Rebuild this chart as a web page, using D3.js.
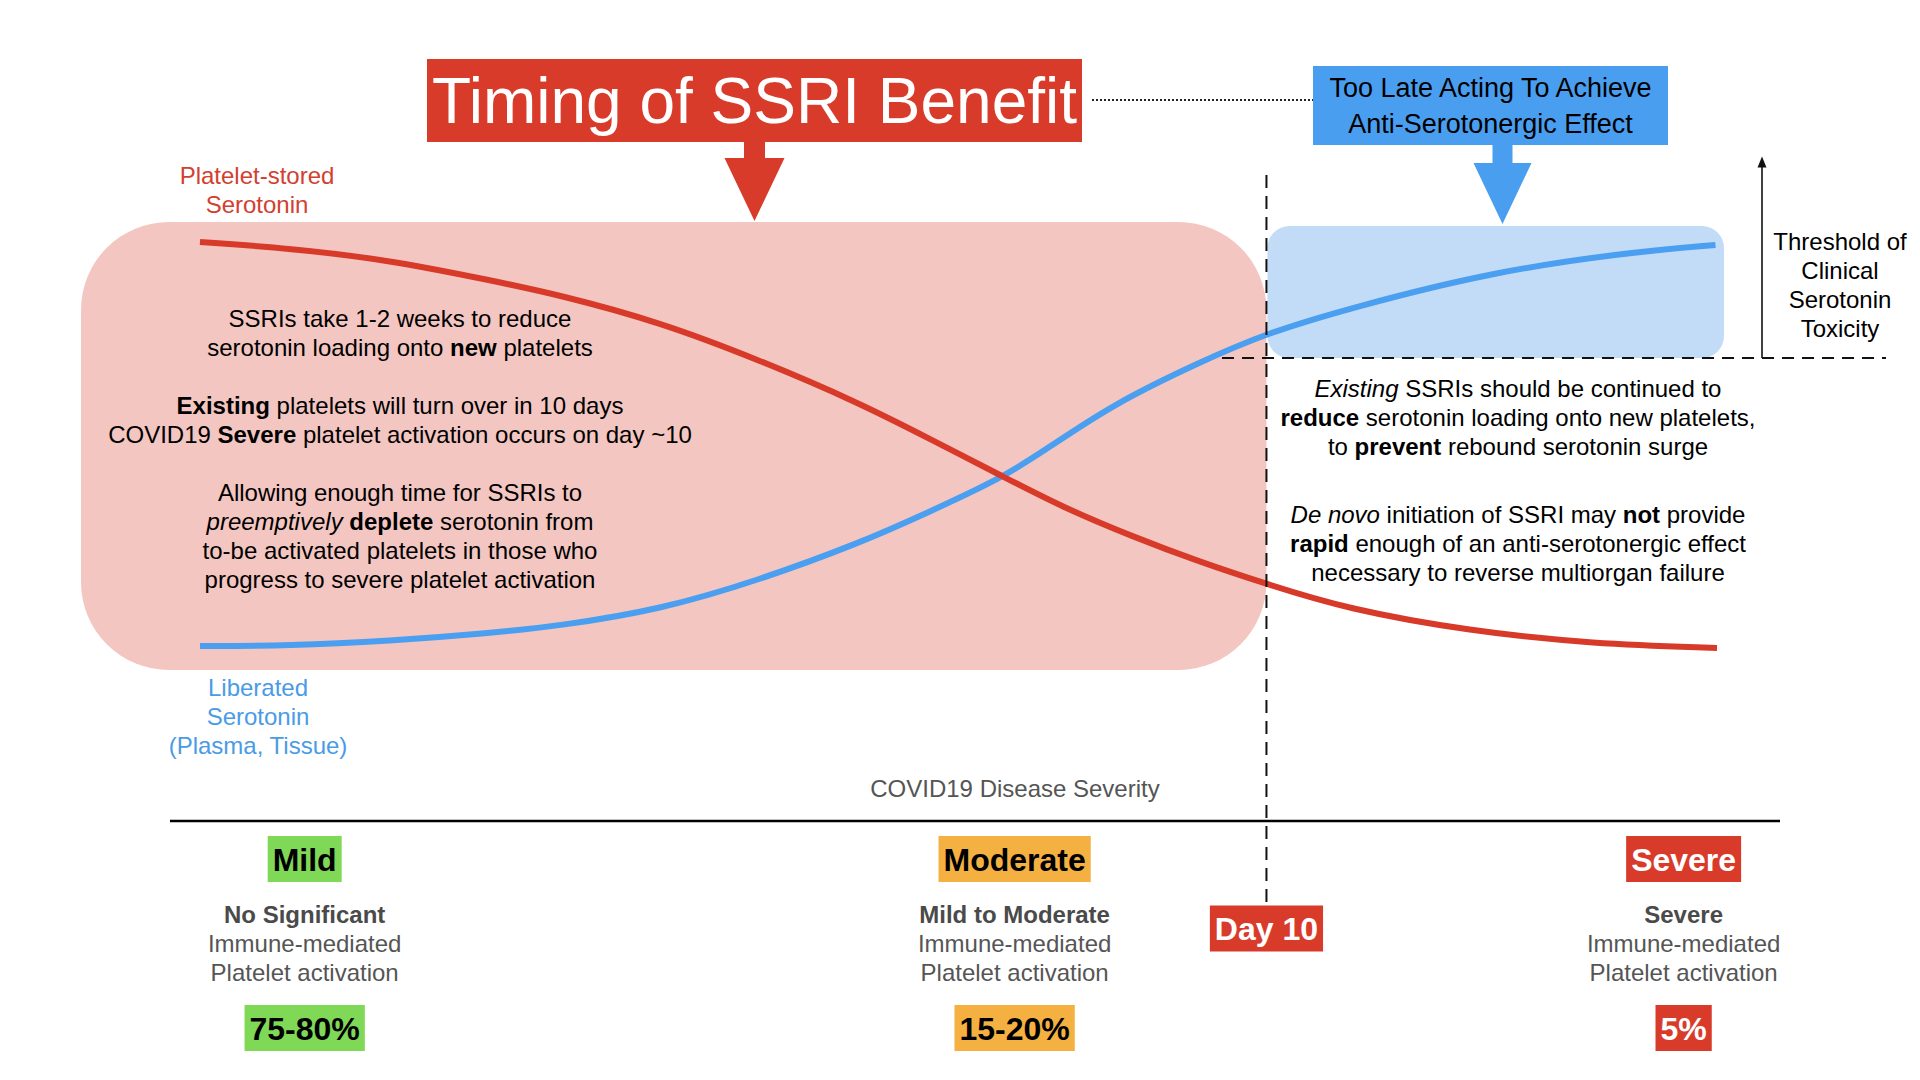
<!DOCTYPE html>
<html>
<head>
<meta charset="utf-8">
<script src="https://cdn.jsdelivr.net/npm/d3@7"></script>
<style>
  html, body { margin: 0; padding: 0; background: #ffffff; }
  svg { display: block; font-family: "Liberation Sans", Arial, Helvetica, sans-serif; }
  text { white-space: pre; }
</style>
</head>
<body>
<svg id="chart" width="1920" height="1080"></svg>
<script>
// ---------------- DATA ----------------
// progress of COVID19 disease course (0-100) and relative serotonin level (0-100)
const redProgress = [0, 5.9, 12.5, 19.1, 23.7, 30.3, 36.9, 43.5, 47.9, 53.1, 56.7, 61.5, 65.9, 70.3, 75.6, 83.7, 91.8, 100];
const redLevel    = [99.5, 98.0, 95.1, 90.2, 86.6, 80.0, 70.7, 60.2, 51.9, 42.0, 35.1, 27.6, 21.5, 16.1, 10.0, 4.6, 1.5, 0.5];
const blueProgress = [0, 5.9, 12.5, 19.1, 23.7, 30.3, 36.9, 43.5, 47.9, 52.9, 55.8, 60.2, 65.9, 70.3, 76.1, 84.9, 93.7, 99.9];
const blueLevel    = [1.0, 1.0, 2.2, 4.1, 5.9, 9.8, 17.1, 26.1, 33.4, 42.0, 49.0, 60.0, 70.2, 77.3, 83.7, 92.0, 96.8, 98.8];
const dayTenProgress = 70.3;
const toxicityThreshold = 71.2;

const severityNames = ["Mild", "Moderate", "Severe"];
const severityDescHead = ["No Significant", "Mild to Moderate", "Severe"];
const severityDescRest = ["Immune-mediated", "Platelet activation"];
const severityShare = ["75-80%", "15-20%", "5%"];
const severityAnchor = [6.9, 53.7, 97.8];

const titleText = "Timing of SSRI Benefit";
const lateText = ["Too Late Acting To Achieve", "Anti-Serotonergic Effect"];
const plateletLabel = ["Platelet-stored", "Serotonin"];
const liberatedLabel = ["Liberated", "Serotonin", "(Plasma, Tissue)"];
const thresholdLabel = ["Threshold of", "Clinical", "Serotonin", "Toxicity"];
const axisTitle = "COVID19 Disease Severity";
const dayLabel = "Day 10";
const leftNotes = [
  [["SSRIs take 1-2 weeks to reduce"]],
  [["serotonin loading onto "], ["new", "b"], [" platelets"]],
  [["Existing", "b"], [" platelets will turn over in 10 days"]],
  [["COVID19 "], ["Severe", "b"], [" platelet activation occurs on day ~10"]],
  [["Allowing enough time for SSRIs to"]],
  [["preemptively", "i"], [" "], ["deplete", "b"], [" serotonin from"]],
  [["to-be activated platelets in those who"]],
  [["progress to severe platelet activation"]]
];
const rightNotes = [
  [["Existing", "i"], [" SSRIs should be continued to"]],
  [["reduce", "b"], [" serotonin loading onto new platelets,"]],
  [["to "], ["prevent", "b"], [" rebound serotonin surge"]],
  [["De novo", "i"], [" initiation of SSRI may "], ["not", "b"], [" provide"]],
  [["rapid", "b"], [" enough of an anti-serotonergic effect"]],
  [["necessary to reverse multiorgan failure"]]
];

// ---------------- STYLE / LAYOUT ----------------
const C = {
  red: "#d93b2b", redLine: "#d83a2a", blue: "#4a9ef0", blueLine: "#4b9ff0",
  pink: "#f4c6c1", lightBlue: "#c2dcf7", green: "#7fd957", orange: "#f4b142",
  gray: "#555555", redText: "#d2402f", blueText: "#4a9be6"
};
const boxColors = [C.green, C.orange, C.red];
const boxText = ["#000", "#000", "#fff"];
const leftBaselines = [327, 356, 414, 443, 501, 530, 559, 588];
const rightBaselines = [397, 426, 455, 523, 552, 581];

const svg = d3.select("#chart");
const x = d3.scaleLinear().domain([0, 100]).range([200, 1717]);
const y = d3.scaleLinear().domain([0, 100]).range([650, 240]);

// background regions
const xDay = x(dayTenProgress);
const yThr = y(toxicityThreshold);
svg.append("rect").attr("x", 81).attr("y", 222).attr("width", xDay - 81).attr("height", 448)
  .attr("rx", 88).attr("ry", 88).attr("fill", C.pink);
svg.append("rect").attr("x", xDay + 1).attr("y", 226).attr("width", x(100) + 7 - xDay - 1).attr("height", yThr - 226)
  .attr("rx", 22).attr("ry", 22).attr("fill", C.lightBlue);

// curves
const line = d3.line().x(d => x(d[0])).y(d => y(d[1])).curve(d3.curveBasis);
const blueData = blueProgress.map((p, i) => [p, blueLevel[i]]);
const redData = redProgress.map((p, i) => [p, redLevel[i]]);
svg.append("path").attr("d", line(blueData)).attr("fill", "none").attr("stroke", C.blueLine).attr("stroke-width", 6);
svg.append("path").attr("d", line(redData)).attr("fill", "none").attr("stroke", C.redLine).attr("stroke-width", 6);

// dashed lines
svg.append("line").attr("x1", xDay).attr("x2", xDay).attr("y1", 175).attr("y2", 905)
  .attr("stroke", "#111").attr("stroke-width", 2).attr("stroke-dasharray", "13,8");
svg.append("line").attr("x1", 1222).attr("x2", 1886).attr("y1", yThr).attr("y2", yThr)
  .attr("stroke", "#111").attr("stroke-width", 2).attr("stroke-dasharray", "12,8");

// threshold arrow
svg.append("defs").append("marker").attr("id", "ah").attr("viewBox", "0 0 10 10")
  .attr("refX", 5).attr("refY", 5).attr("markerWidth", 7).attr("markerHeight", 7).attr("orient", "auto")
  .append("path").attr("d", "M0,1 L10,5 L0,9 z").attr("fill", "#111");
svg.append("line").attr("x1", 1762).attr("x2", 1762).attr("y1", yThr).attr("y2", 162)
  .attr("stroke", "#111").attr("stroke-width", 1.6).attr("marker-end", "url(#ah)");

// title box
svg.append("rect").attr("x", 427).attr("y", 59).attr("width", 655).attr("height", 83).attr("fill", C.red);
svg.append("text").attr("x", 754.5).attr("y", 123).attr("text-anchor", "middle")
  .attr("font-size", 64).attr("fill", "#fff").text(titleText);

// dotted connector
svg.append("line").attr("x1", 1092).attr("x2", 1313).attr("y1", 100).attr("y2", 100)
  .attr("stroke", "#222").attr("stroke-width", 2).attr("stroke-dasharray", "2,2");

// blue box
svg.append("rect").attr("x", 1313).attr("y", 66).attr("width", 355).attr("height", 79).attr("fill", C.blue);
lateText.forEach((t, i) => {
  svg.append("text").attr("x", 1490.5).attr("y", 97 + i * 36).attr("text-anchor", "middle")
    .attr("font-size", 27).attr("fill", "#000").text(t);
});

// block arrows
function blockArrow(cx, top, stemW, headTop, headW, tip, color) {
  const p = d3.path();
  p.moveTo(cx - stemW / 2, top); p.lineTo(cx + stemW / 2, top); p.lineTo(cx + stemW / 2, headTop);
  p.lineTo(cx + headW / 2, headTop); p.lineTo(cx, tip); p.lineTo(cx - headW / 2, headTop);
  p.lineTo(cx - stemW / 2, headTop); p.closePath();
  svg.append("path").attr("d", p.toString()).attr("fill", color);
}
blockArrow(754.5, 142, 21, 158, 60, 221, C.red);
blockArrow(1502.5, 145, 20, 163, 58, 224, C.blue);

// series labels
plateletLabel.forEach((t, i) => svg.append("text").attr("x", 257).attr("y", 184 + i * 29)
  .attr("text-anchor", "middle").attr("font-size", 24).attr("fill", C.redText).text(t));
liberatedLabel.forEach((t, i) => svg.append("text").attr("x", 258).attr("y", 696 + i * 29)
  .attr("text-anchor", "middle").attr("font-size", 24).attr("fill", C.blueText).text(t));
thresholdLabel.forEach((t, i) => svg.append("text").attr("x", 1840).attr("y", 250 + i * 29)
  .attr("text-anchor", "middle").attr("font-size", 24).attr("fill", "#000").text(t));

// rich text notes
function richBlock(lines, cx, baselines) {
  lines.forEach((segs, i) => {
    const t = svg.append("text").attr("x", cx).attr("y", baselines[i])
      .attr("text-anchor", "middle").attr("font-size", 24).attr("fill", "#000");
    segs.forEach(s => {
      const ts = t.append("tspan").text(s[0]);
      if (s[1] === "b") ts.attr("font-weight", "bold");
      if (s[1] === "i") ts.attr("font-style", "italic");
    });
  });
}
richBlock(leftNotes, 400, leftBaselines);
richBlock(rightNotes, 1518, rightBaselines);

// axis
svg.append("line").attr("x1", 170).attr("x2", 1780).attr("y1", 821).attr("y2", 821)
  .attr("stroke", "#000").attr("stroke-width", 2.5);
svg.append("text").attr("x", 1015).attr("y", 797).attr("text-anchor", "middle")
  .attr("font-size", 24).attr("fill", C.gray).text(axisTitle);

// labelled boxes
function labelBox(cx, cy, label, fill, color) {
  const g = svg.append("g");
  const r = g.append("rect").attr("fill", fill);
  const t = g.append("text").attr("x", cx).attr("y", cy + 11.5).attr("text-anchor", "middle")
    .attr("font-size", 32).attr("font-weight", "bold").attr("fill", color).text(label);
  const w = t.node().getComputedTextLength() + 10;
  r.attr("x", cx - w / 2).attr("y", cy - 23).attr("width", w).attr("height", 46);
}

severityNames.forEach((n, i) => {
  const cx = x(severityAnchor[i]);
  labelBox(cx, 859, n, boxColors[i], boxText[i]);
  svg.append("text").attr("x", cx).attr("y", 923).attr("text-anchor", "middle")
    .attr("font-size", 24).attr("font-weight", "bold").attr("fill", "#4a4a4a").text(severityDescHead[i]);
  severityDescRest.forEach((t, j) => svg.append("text").attr("x", cx).attr("y", 952 + j * 29)
    .attr("text-anchor", "middle").attr("font-size", 24).attr("fill", C.gray).text(t));
  labelBox(cx, 1028, severityShare[i], boxColors[i], boxText[i]);
});
labelBox(xDay, 928.5, dayLabel, C.red, "#fff");
</script>
</body>
</html>
